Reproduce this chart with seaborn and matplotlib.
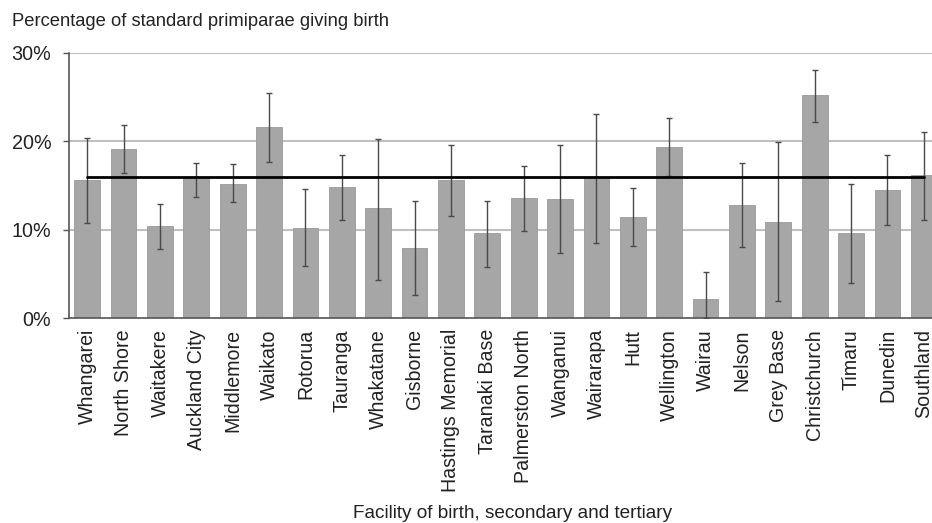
import matplotlib
matplotlib.use("Agg")
import matplotlib.pyplot as plt
import seaborn as sns
import pandas as pd
import numpy as np
from matplotlib.ticker import FuncFormatter

facilities = ["Whangarei", "North Shore", "Waitakere", "Auckland City", "Middlemore",
              "Waikato", "Rotorua", "Tauranga", "Whakatane", "Gisborne",
              "Hastings Memorial", "Taranaki Base", "Palmerston North", "Wanganui",
              "Wairarapa", "Hutt", "Wellington", "Wairau", "Nelson", "Grey Base",
              "Christchurch", "Timaru", "Dunedin", "Southland"]
pct = [15.6, 19.1, 10.45, 16.0, 15.2, 21.6, 10.2, 14.8, 12.4, 7.96,
       15.6, 9.6, 13.6, 13.5, 16.0, 11.4, 19.4, 2.2, 12.75, 10.9,
       25.2, 9.6, 14.5, 16.2]
ci_upper = [20.4, 21.8, 12.9, 17.6, 17.4, 25.5, 14.6, 18.45, 20.3, 13.2,
            19.6, 13.3, 17.2, 19.6, 23.1, 14.75, 22.6, 5.2, 17.6, 19.9,
            28.1, 15.2, 18.5, 21.1]
ci_lower = [10.8, 16.4, 7.85, 13.7, 13.1, 17.7, 5.9, 11.1, 4.3, 2.6,
            11.5, 5.8, 9.9, 7.4, 8.45, 8.1, 16.1, 0.0, 8.0, 1.9,
            22.15, 3.96, 10.5, 11.1]
national_mean = 16.0

df = pd.DataFrame({"facility": facilities, "pct": pct})

sns.set_style("white")
plt.rcParams["font.family"] = ["Liberation Sans", "DejaVu Sans"]

fig = plt.figure(figsize=(9.32, 5.23), dpi=100)
ax = fig.add_axes([69 / 932, 1 - 318 / 523, (942 - 69) / 932, (318 - 53) / 523])

sns.barplot(data=df, x="facility", y="pct", color="#a6a6a6", saturation=1,
            width=0.71, edgecolor="#999999", linewidth=0.6, ax=ax, zorder=2)

x = np.arange(len(facilities))
p = np.array(pct)
lo = p - np.array(ci_lower)
hi = np.array(ci_upper) - p
ax.errorbar(x, p, yerr=[lo, hi], fmt="none", ecolor="#4a4a4a", elinewidth=1.0,
            capsize=2.5, capthick=1.0, zorder=4)

ax.plot([x[0], x[-1]], [national_mean, national_mean], color="black", lw=2, zorder=5)

ax.set_xlim(-0.5, len(facilities) - 0.5)
ax.set_ylim(0, 30)
ax.set_yticks([0, 10, 20, 30])
ax.yaxis.set_major_formatter(FuncFormatter(lambda v, _: f"{int(v)}%"))
for v in [10, 20, 30]:
    ax.axhline(v, color="#c0c0c0", lw=1.5, zorder=1)

for s in ["top", "right"]:
    ax.spines[s].set_visible(False)
ax.spines["left"].set_color("#555555")
ax.spines["bottom"].set_color("#555555")
ax.spines["left"].set_linewidth(1.2)
ax.spines["bottom"].set_linewidth(1.2)

ax.tick_params(axis="y", left=True, length=4.3, width=1, color="#555555",
               labelsize=14.2, pad=8.5, labelcolor="#222222")
ax.tick_params(axis="x", bottom=False, labelsize=14.1, pad=4.5, labelcolor="#222222")
plt.setp(ax.get_xticklabels(), rotation=90)

ax.set_xlabel("")
ax.set_ylabel("")
fig.text(12 / 932, 1 - 22 / 523, "Percentage of standard primiparae giving birth",
         fontsize=13.2, color="#222222", va="center", ha="left")
fig.text(513 / 932, 1 - 513 / 523, "Facility of birth, secondary and tertiary",
         fontsize=13.7, color="#222222", va="center", ha="center")

fig.savefig("out.png", dpi=100)
